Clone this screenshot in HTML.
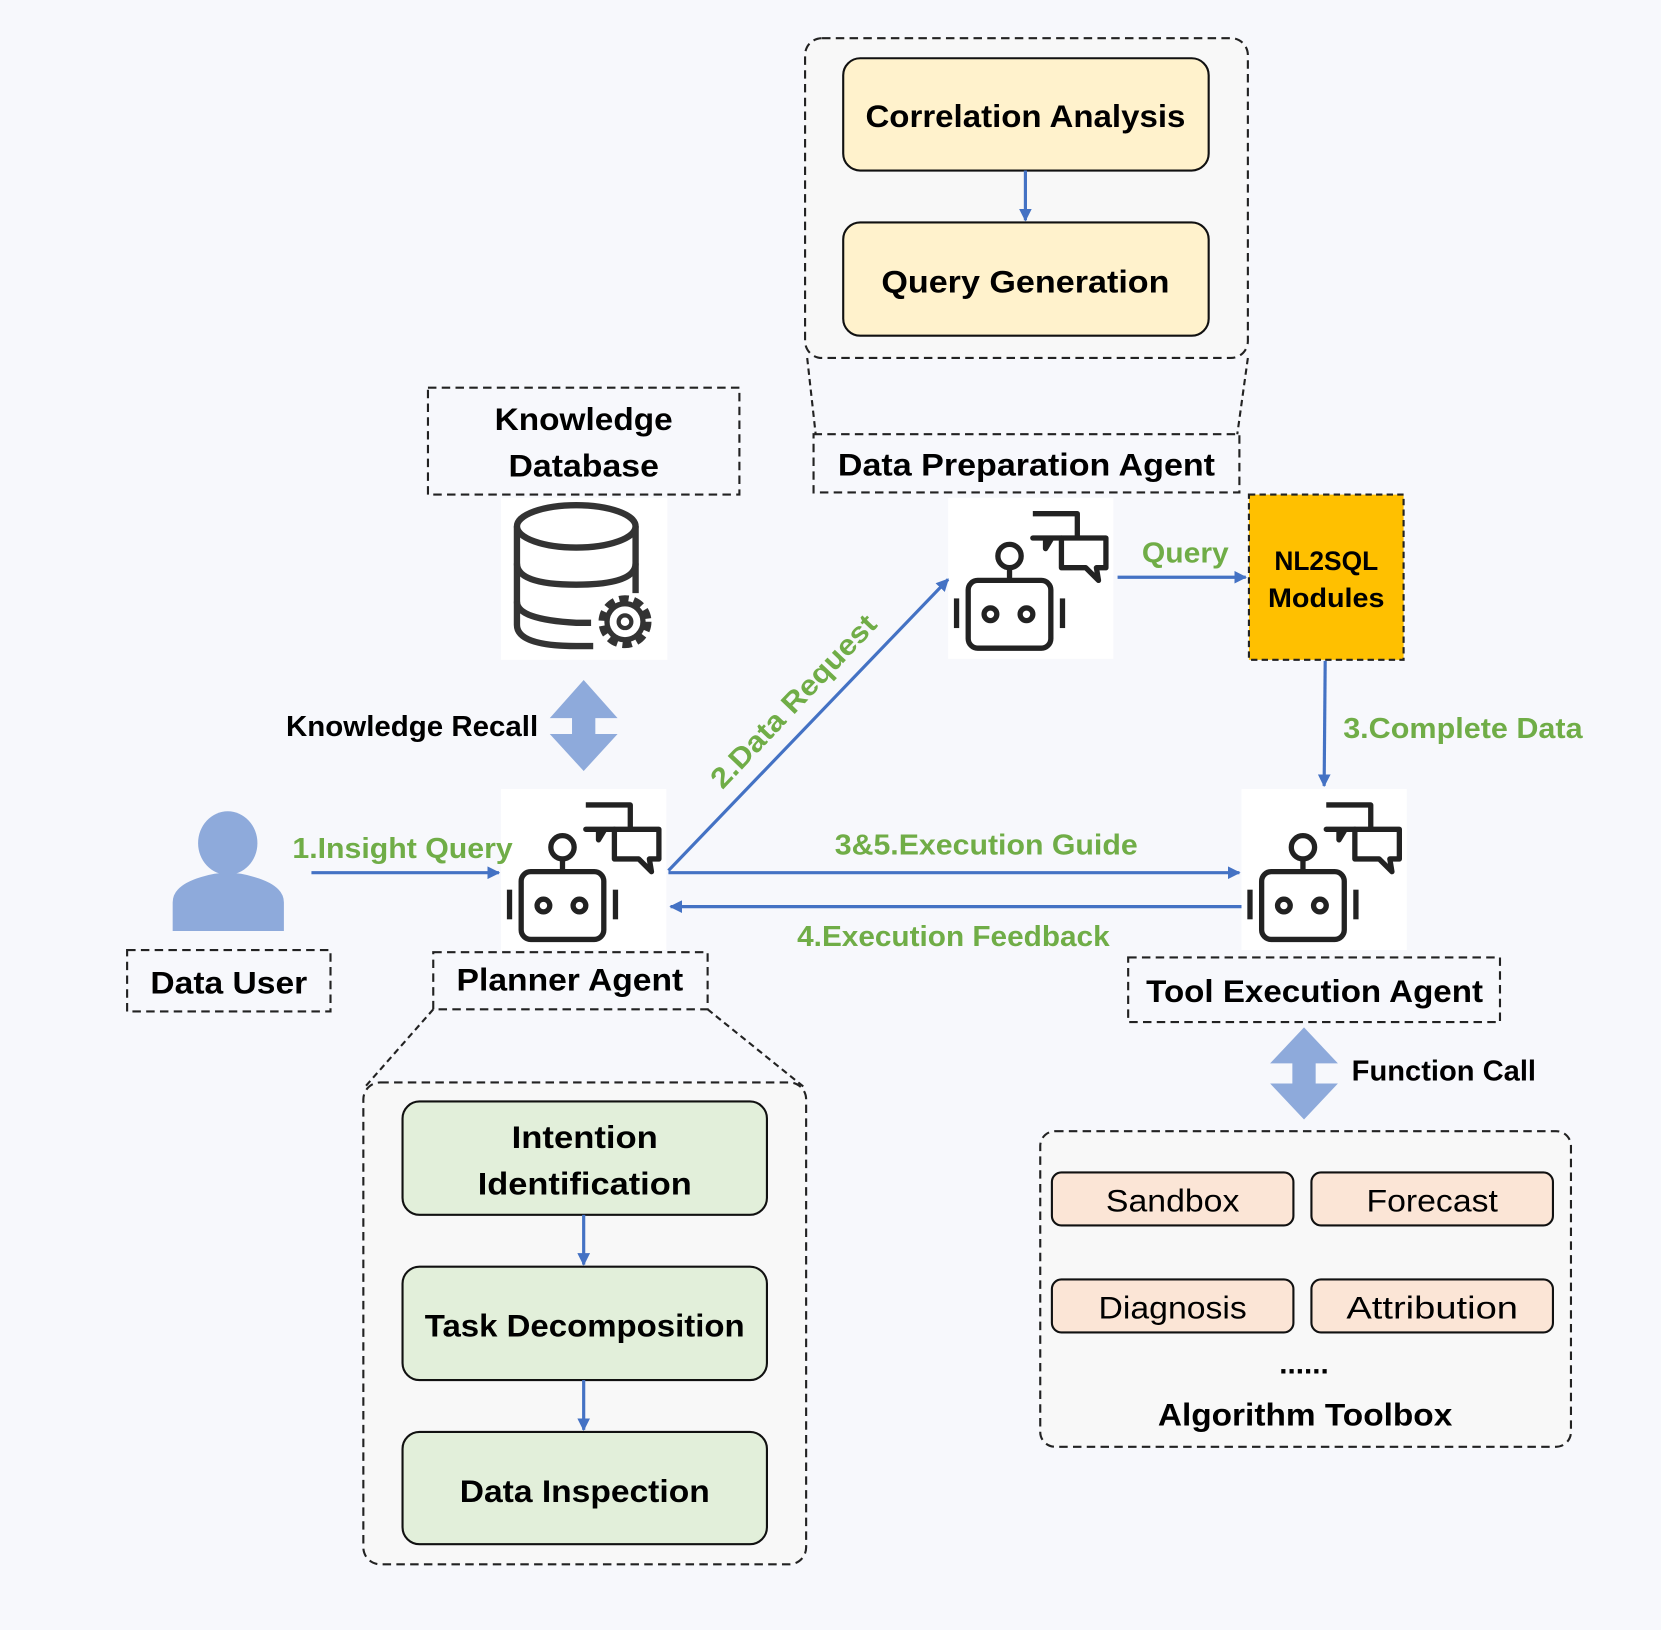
<!DOCTYPE html>
<html><head><meta charset="utf-8"><style>
html,body{margin:0;padding:0;background:#f7f8fc;}
svg{display:block;}
text{font-family:"Liberation Sans",sans-serif;font-weight:bold;}
</style></head><body>
<svg width="1661" height="1630" viewBox="0 0 1568 1539" preserveAspectRatio="none" xmlns="http://www.w3.org/2000/svg">
<defs>
<marker id="ah" viewBox="0 0 10 10" refX="9" refY="5" markerWidth="4" markerHeight="4" orient="auto-start-reverse" markerUnits="strokeWidth">
<path d="M0,0 L10,5 L0,10 z" fill="#4472c4"/></marker>
<g id="robot">
<rect x="0" y="0" width="156" height="152" fill="#ffffff"/>
<g fill="none" stroke="#222" stroke-width="5" stroke-linejoin="round">
<rect x="19" y="78" width="78" height="64" rx="9"/>
<circle cx="58" cy="55" r="11"/>
<line x1="58" y1="66" x2="58" y2="78"/>
<line x1="8" y1="95" x2="8" y2="123"/>
<line x1="108" y1="95" x2="108" y2="123"/>
<circle cx="40" cy="110" r="6"/>
<circle cx="74" cy="110" r="6"/>
<path d="M80,15 H122 V38 M107,38 H98 L92,48 V38 H80 Z"/>
<path d="M107,38 H149 V66 H140 L142,78 L130,66 H107 Z"/>
</g>
</g>
</defs>
<rect width="1568" height="1539" fill="#f7f8fc"/>

<!-- top group -->
<rect x="760" y="36" width="418" height="302" rx="16" fill="#f8f8f8" stroke="#222" stroke-width="2" stroke-dasharray="8,5"/>
<rect x="796" y="55" width="345" height="106" rx="16" fill="#fff2cc" stroke="#111" stroke-width="2"/>
<text x="968" y="120" font-size="30" text-anchor="middle" textLength="302" lengthAdjust="spacingAndGlyphs">Correlation Analysis</text>
<line x1="968" y1="161" x2="968" y2="208" stroke="#4472c4" stroke-width="3" marker-end="url(#ah)"/>
<rect x="796" y="210" width="345" height="107" rx="16" fill="#fff2cc" stroke="#111" stroke-width="2"/>
<text x="968" y="276" font-size="30" text-anchor="middle" textLength="272" lengthAdjust="spacingAndGlyphs">Query Generation</text>
<line x1="762" y1="338" x2="770" y2="410" stroke="#222" stroke-width="2" stroke-dasharray="6,4"/>
<line x1="1178" y1="338" x2="1168" y2="410" stroke="#222" stroke-width="2" stroke-dasharray="6,4"/>
<rect x="768" y="410" width="402" height="55" fill="none" stroke="#222" stroke-width="2" stroke-dasharray="8,5"/>
<text x="969" y="449" font-size="30" text-anchor="middle" textLength="356" lengthAdjust="spacingAndGlyphs">Data Preparation Agent</text>

<!-- knowledge db -->
<rect x="404" y="366" width="294" height="101" fill="none" stroke="#222" stroke-width="2" stroke-dasharray="8,5"/>
<text x="551" y="406" font-size="30" text-anchor="middle" textLength="168" lengthAdjust="spacingAndGlyphs">Knowledge</text>
<text x="551" y="450" font-size="30" text-anchor="middle" textLength="142" lengthAdjust="spacingAndGlyphs">Database</text>
<rect x="473" y="470" width="157" height="153" fill="#fff"/>
<g fill="none" stroke="#333" stroke-width="6">
<ellipse cx="544" cy="497" rx="56" ry="20"/>
<path d="M488,497 V590 Q488,610 544,610 L560,610"/>
<path d="M600,497 V560"/>
<path d="M488,532 Q488,552 544,552 Q600,552 600,532"/>
<path d="M488,568 Q488,585 544,588 L558,588"/>
<circle cx="590" cy="587" r="22" stroke-width="6" stroke-dasharray="9,5"/>
<circle cx="590" cy="587" r="17" stroke-width="5"/>
<circle cx="590" cy="587" r="6" stroke-width="4"/>
</g>
<!-- knowledge recall arrow -->
<path d="M551,642 L583,678 L562,678 L562,693 L583,693 L551,728 L519,693 L540,693 L540,678 L519,678 Z" fill="#8eaadb"/>
<text x="508" y="695" font-size="27" text-anchor="end" textLength="238" lengthAdjust="spacingAndGlyphs">Knowledge Recall</text>

<!-- data prep robot -->
<use href="#robot" x="895" y="470"/>
<line x1="1055" y1="545" x2="1176" y2="545" stroke="#4472c4" stroke-width="3" marker-end="url(#ah)"/>
<text x="1078" y="531" font-size="27" fill="#70ad47" textLength="82" lengthAdjust="spacingAndGlyphs">Query</text>
<rect x="1179" y="467" width="146" height="156" fill="#ffc000" stroke="#222" stroke-width="2" stroke-dasharray="6,4"/>
<text x="1252" y="538" font-size="25" text-anchor="middle" textLength="98" lengthAdjust="spacingAndGlyphs">NL2SQL</text>
<text x="1252" y="573" font-size="25" text-anchor="middle" textLength="110" lengthAdjust="spacingAndGlyphs">Modules</text>
<line x1="1251" y1="624" x2="1250" y2="742" stroke="#4472c4" stroke-width="3" marker-end="url(#ah)"/>
<text x="1268" y="697" font-size="27" fill="#70ad47" textLength="226" lengthAdjust="spacingAndGlyphs">3.Complete Data</text>

<!-- data user -->
<ellipse cx="215" cy="796" rx="28" ry="30" fill="#8eaadb"/>
<path d="M163,879 V852 Q163,836 190,828 Q215,820 240,828 Q268,836 268,852 V879 Z" fill="#8eaadb"/>
<rect x="120" y="897" width="192" height="58" fill="none" stroke="#222" stroke-width="2" stroke-dasharray="8,5"/>
<text x="216" y="938" font-size="30" text-anchor="middle" textLength="148" lengthAdjust="spacingAndGlyphs">Data User</text>
<line x1="294" y1="824" x2="471" y2="824" stroke="#4472c4" stroke-width="3" marker-end="url(#ah)"/>

<!-- planner robot -->
<use href="#robot" x="473" y="745"/>
<text x="276" y="810" font-size="27" fill="#70ad47" textLength="208" lengthAdjust="spacingAndGlyphs">1.Insight Query</text>
<line x1="631" y1="822" x2="895" y2="547" stroke="#4472c4" stroke-width="3" marker-end="url(#ah)"/>
<text transform="translate(682,746) rotate(-46.5)" font-size="27" fill="#70ad47" textLength="214" lengthAdjust="spacingAndGlyphs">2.Data Request</text>
<line x1="631" y1="824" x2="1170" y2="824" stroke="#4472c4" stroke-width="3" marker-end="url(#ah)"/>
<text x="931" y="807" font-size="27" fill="#70ad47" text-anchor="middle" textLength="286" lengthAdjust="spacingAndGlyphs">3&amp;5.Execution Guide</text>
<line x1="1172" y1="856" x2="633" y2="856" stroke="#4472c4" stroke-width="3" marker-end="url(#ah)"/>
<text x="900" y="893" font-size="27" fill="#70ad47" text-anchor="middle" textLength="295" lengthAdjust="spacingAndGlyphs">4.Execution Feedback</text>

<!-- tool robot -->
<use href="#robot" x="1172" y="745"/>
<rect x="409" y="899" width="259" height="54" fill="none" stroke="#222" stroke-width="2" stroke-dasharray="8,5"/>
<text x="538" y="935" font-size="30" text-anchor="middle" textLength="214" lengthAdjust="spacingAndGlyphs">Planner Agent</text>
<rect x="1065" y="904" width="351" height="61" fill="none" stroke="#222" stroke-width="2" stroke-dasharray="8,5"/>
<text x="1241" y="946" font-size="30" text-anchor="middle" textLength="318" lengthAdjust="spacingAndGlyphs">Tool Execution Agent</text>

<!-- function call -->
<path d="M1231,970 L1263,1004 L1242,1004 L1242,1023 L1263,1023 L1231,1057 L1199,1023 L1220,1023 L1220,1004 L1199,1004 Z" fill="#8eaadb"/>
<text x="1276" y="1020" font-size="27" textLength="174" lengthAdjust="spacingAndGlyphs">Function Call</text>

<!-- toolbox -->
<rect x="982" y="1068" width="501" height="298" rx="14" fill="#f8f8f8" stroke="#222" stroke-width="2" stroke-dasharray="8,5"/>
<g fill="#fbe5d6" stroke="#111" stroke-width="2">
<rect x="993" y="1107" width="228" height="50" rx="9"/>
<rect x="1238" y="1107" width="228" height="50" rx="9"/>
<rect x="993" y="1208" width="228" height="50" rx="9"/>
<rect x="1238" y="1208" width="228" height="50" rx="9"/>
</g>
<g font-size="30" text-anchor="middle">
<text x="1107" y="1144" style="font-weight:normal" textLength="126" lengthAdjust="spacingAndGlyphs">Sandbox</text>
<text x="1352" y="1144" style="font-weight:normal" textLength="124" lengthAdjust="spacingAndGlyphs">Forecast</text>
<text x="1107" y="1245" style="font-weight:normal" textLength="140" lengthAdjust="spacingAndGlyphs">Diagnosis</text>
<text x="1352" y="1245" style="font-weight:normal" textLength="162" lengthAdjust="spacingAndGlyphs">Attribution</text>
</g>
<text x="1231" y="1297" font-size="28" text-anchor="middle">......</text>
<text x="1232" y="1346" font-size="30" text-anchor="middle" textLength="278" lengthAdjust="spacingAndGlyphs">Algorithm Toolbox</text>

<!-- planner group -->
<line x1="409" y1="953" x2="343" y2="1028" stroke="#222" stroke-width="2" stroke-dasharray="6,4"/>
<line x1="668" y1="953" x2="761" y2="1028" stroke="#222" stroke-width="2" stroke-dasharray="6,4"/>
<rect x="343" y="1022" width="418" height="455" rx="16" fill="#f8f8f8" stroke="#222" stroke-width="2" stroke-dasharray="8,5"/>
<g fill="#e2efda" stroke="#111" stroke-width="2">
<rect x="380" y="1040" width="344" height="107" rx="16"/>
<rect x="380" y="1196" width="344" height="107" rx="16"/>
<rect x="380" y="1352" width="344" height="106" rx="16"/>
</g>
<text x="552" y="1084" font-size="30" text-anchor="middle" textLength="138" lengthAdjust="spacingAndGlyphs">Intention</text>
<text x="552" y="1128" font-size="30" text-anchor="middle" textLength="202" lengthAdjust="spacingAndGlyphs">Identification</text>
<text x="552" y="1262" font-size="30" text-anchor="middle" textLength="302" lengthAdjust="spacingAndGlyphs">Task Decomposition</text>
<text x="552" y="1418" font-size="30" text-anchor="middle" textLength="236" lengthAdjust="spacingAndGlyphs">Data Inspection</text>
<line x1="551" y1="1147" x2="551" y2="1194" stroke="#4472c4" stroke-width="3" marker-end="url(#ah)"/>
<line x1="551" y1="1303" x2="551" y2="1350" stroke="#4472c4" stroke-width="3" marker-end="url(#ah)"/>
</svg>
</body></html>
